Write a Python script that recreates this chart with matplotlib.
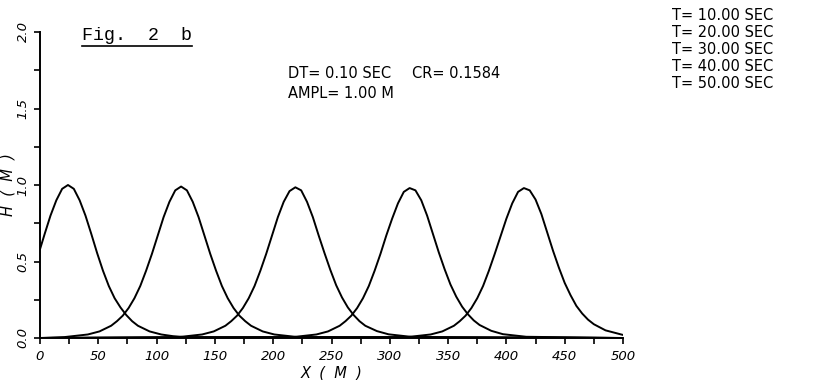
import numpy as np
import matplotlib
matplotlib.use('Agg')
from matplotlib import pyplot as plt
from matplotlib.lines import Line2D
from matplotlib.ticker import MultipleLocator, FixedFormatter, FixedLocator

# wave profiles H(x), one per output time
times = [10.0, 20.0, 30.0, 40.0, 50.0]

x_t10 = [0, 4, 9, 14, 19, 24, 29, 34, 39, 44, 49, 54, 59, 64, 69, 74, 79,
         84, 94, 104, 114, 124, 500]
h_t10 = [0.58, 0.68, 0.80, 0.90, 0.975, 1.00, 0.975, 0.90, 0.80, 0.68, 0.555,
         0.44, 0.34, 0.26, 0.20, 0.15, 0.11, 0.08, 0.043, 0.023, 0.012,
         0.006, 0.0]

x_t20 = [0, 21, 41, 51, 61, 66, 71, 76, 81, 86, 91, 96, 101, 106, 111, 116,
         121, 126, 131, 136, 141, 146, 151, 156, 161, 166, 171, 176, 181,
         191, 201, 221, 500]
h_t20 = [0.0, 0.006, 0.023, 0.043, 0.08, 0.11, 0.146, 0.196, 0.26, 0.34,
         0.44, 0.55, 0.67, 0.79, 0.89, 0.965, 0.99, 0.965, 0.89, 0.79, 0.67,
         0.55, 0.44, 0.34, 0.26, 0.196, 0.146, 0.11, 0.08, 0.043, 0.023,
         0.006, 0.0]

x_t30 = [0, 119, 139, 149, 159, 164, 169, 174, 179, 184, 189, 194, 199, 204,
         209, 214, 219, 224, 229, 234, 239, 244, 249, 254, 259, 264, 269,
         274, 279, 289, 299, 319, 500]
h_t30 = [0.0, 0.006, 0.023, 0.043, 0.08, 0.11, 0.146, 0.196, 0.26, 0.34,
         0.44, 0.55, 0.67, 0.79, 0.89, 0.96, 0.985, 0.965, 0.89, 0.79, 0.67,
         0.555, 0.445, 0.345, 0.265, 0.20, 0.15, 0.11, 0.08, 0.045, 0.024,
         0.007, 0.0]

x_t40 = [0, 217, 237, 247, 257, 262, 267, 272, 277, 282, 287, 292, 297, 302,
         307, 312, 317, 322, 327, 332, 337, 342, 347, 352, 357, 362, 367,
         372, 377, 387, 397, 417, 500]
h_t40 = [0.0, 0.006, 0.023, 0.043, 0.08, 0.11, 0.146, 0.196, 0.26, 0.34,
         0.44, 0.55, 0.67, 0.78, 0.88, 0.955, 0.98, 0.965, 0.90, 0.80, 0.68,
         0.56, 0.45, 0.35, 0.27, 0.205, 0.155, 0.115, 0.085, 0.047, 0.025,
         0.008, 0.0]

x_t50 = [0, 315, 335, 345, 355, 360, 365, 370, 375, 380, 385, 390, 395, 400,
         405, 410, 415, 420, 425, 430, 435, 440, 445, 450, 455, 460, 465,
         470, 475, 485, 495, 500]
h_t50 = [0.0, 0.006, 0.023, 0.043, 0.08, 0.11, 0.146, 0.196, 0.26, 0.34,
         0.44, 0.55, 0.665, 0.78, 0.88, 0.955, 0.98, 0.965, 0.905, 0.81,
         0.69, 0.57, 0.46, 0.36, 0.28, 0.21, 0.16, 0.12, 0.09, 0.05, 0.03,
         0.02]

profiles = [(x_t10, h_t10), (x_t20, h_t20), (x_t30, h_t30),
            (x_t40, h_t40), (x_t50, h_t50)]

xticks = [0, 50, 100, 150, 200, 250, 300, 350, 400, 450, 500]
yticks = [0.0, 0.5, 1.0, 1.5, 2.0]

TICKFONT = {'family': 'DejaVu Sans', 'style': 'oblique', 'size': 9.5}
INFOFONT = {'family': 'DejaVu Sans', 'size': 10.5}
LABELFONT = {'family': 'DejaVu Sans', 'style': 'oblique', 'size': 10.5}

W, H = 831, 380
fig = plt.figure(figsize=(W / 100, H / 100), dpi=100)
ax = fig.add_axes([40 / W, 42 / H, 583 / W, 306 / H])

for xs, hs in profiles:
    ax.plot(xs, hs, color='black', lw=1.4, solid_joinstyle='round')

ax.set_xlim(0, 500)
ax.set_ylim(0, 2.0)
for side in ('top', 'right'):
    ax.spines[side].set_visible(False)
for side in ('left', 'bottom'):
    ax.spines[side].set_linewidth(1.4)

ax.xaxis.set_major_locator(FixedLocator(xticks))
ax.xaxis.set_major_formatter(FixedFormatter([str(v) for v in xticks]))
ax.xaxis.set_minor_locator(MultipleLocator(25))
ax.yaxis.set_major_locator(FixedLocator(yticks))
ax.yaxis.set_major_formatter(FixedFormatter(['%.1f' % v for v in yticks]))
ax.yaxis.set_minor_locator(MultipleLocator(0.25))
ax.tick_params(which='both', direction='out', length=4.5, width=1.2,
               color='black')
ax.tick_params(axis='x', pad=4)
ax.tick_params(axis='y', pad=3)
for lab in ax.get_xticklabels():
    lab.set(**TICKFONT)
for lab in ax.get_yticklabels():
    lab.set(rotation=90, va='center', **TICKFONT)

ax.set_xlabel('X  (  M  )', fontdict=LABELFONT, labelpad=2)
ax.set_ylabel('H  (  M  )', fontdict=LABELFONT, labelpad=1)

# figure caption, underlined
fig.text(82 / W, 1 - 35 / H, 'Fig.  2  b', family='Liberation Mono',
         size=13.2, va='center', ha='left')
fig.add_artist(Line2D([82 / W, 192 / W], [1 - 46 / H, 1 - 46 / H],
                      color='black', lw=1.2))

# run parameters
fig.text(288 / W, 1 - 74 / H, 'DT= 0.10 SEC', va='center', **INFOFONT)
fig.text(412 / W, 1 - 74 / H, 'CR= 0.1584', va='center', **INFOFONT)
fig.text(288 / W, 1 - 93 / H, 'AMPL= 1.00 M', va='center', **INFOFONT)

for i, t in enumerate(times):
    fig.text(672 / W, 1 - (15 + 17.2 * i) / H, 'T= %.2f SEC' % t,
             va='center', **INFOFONT)

fig.savefig('out.png', dpi=100)
